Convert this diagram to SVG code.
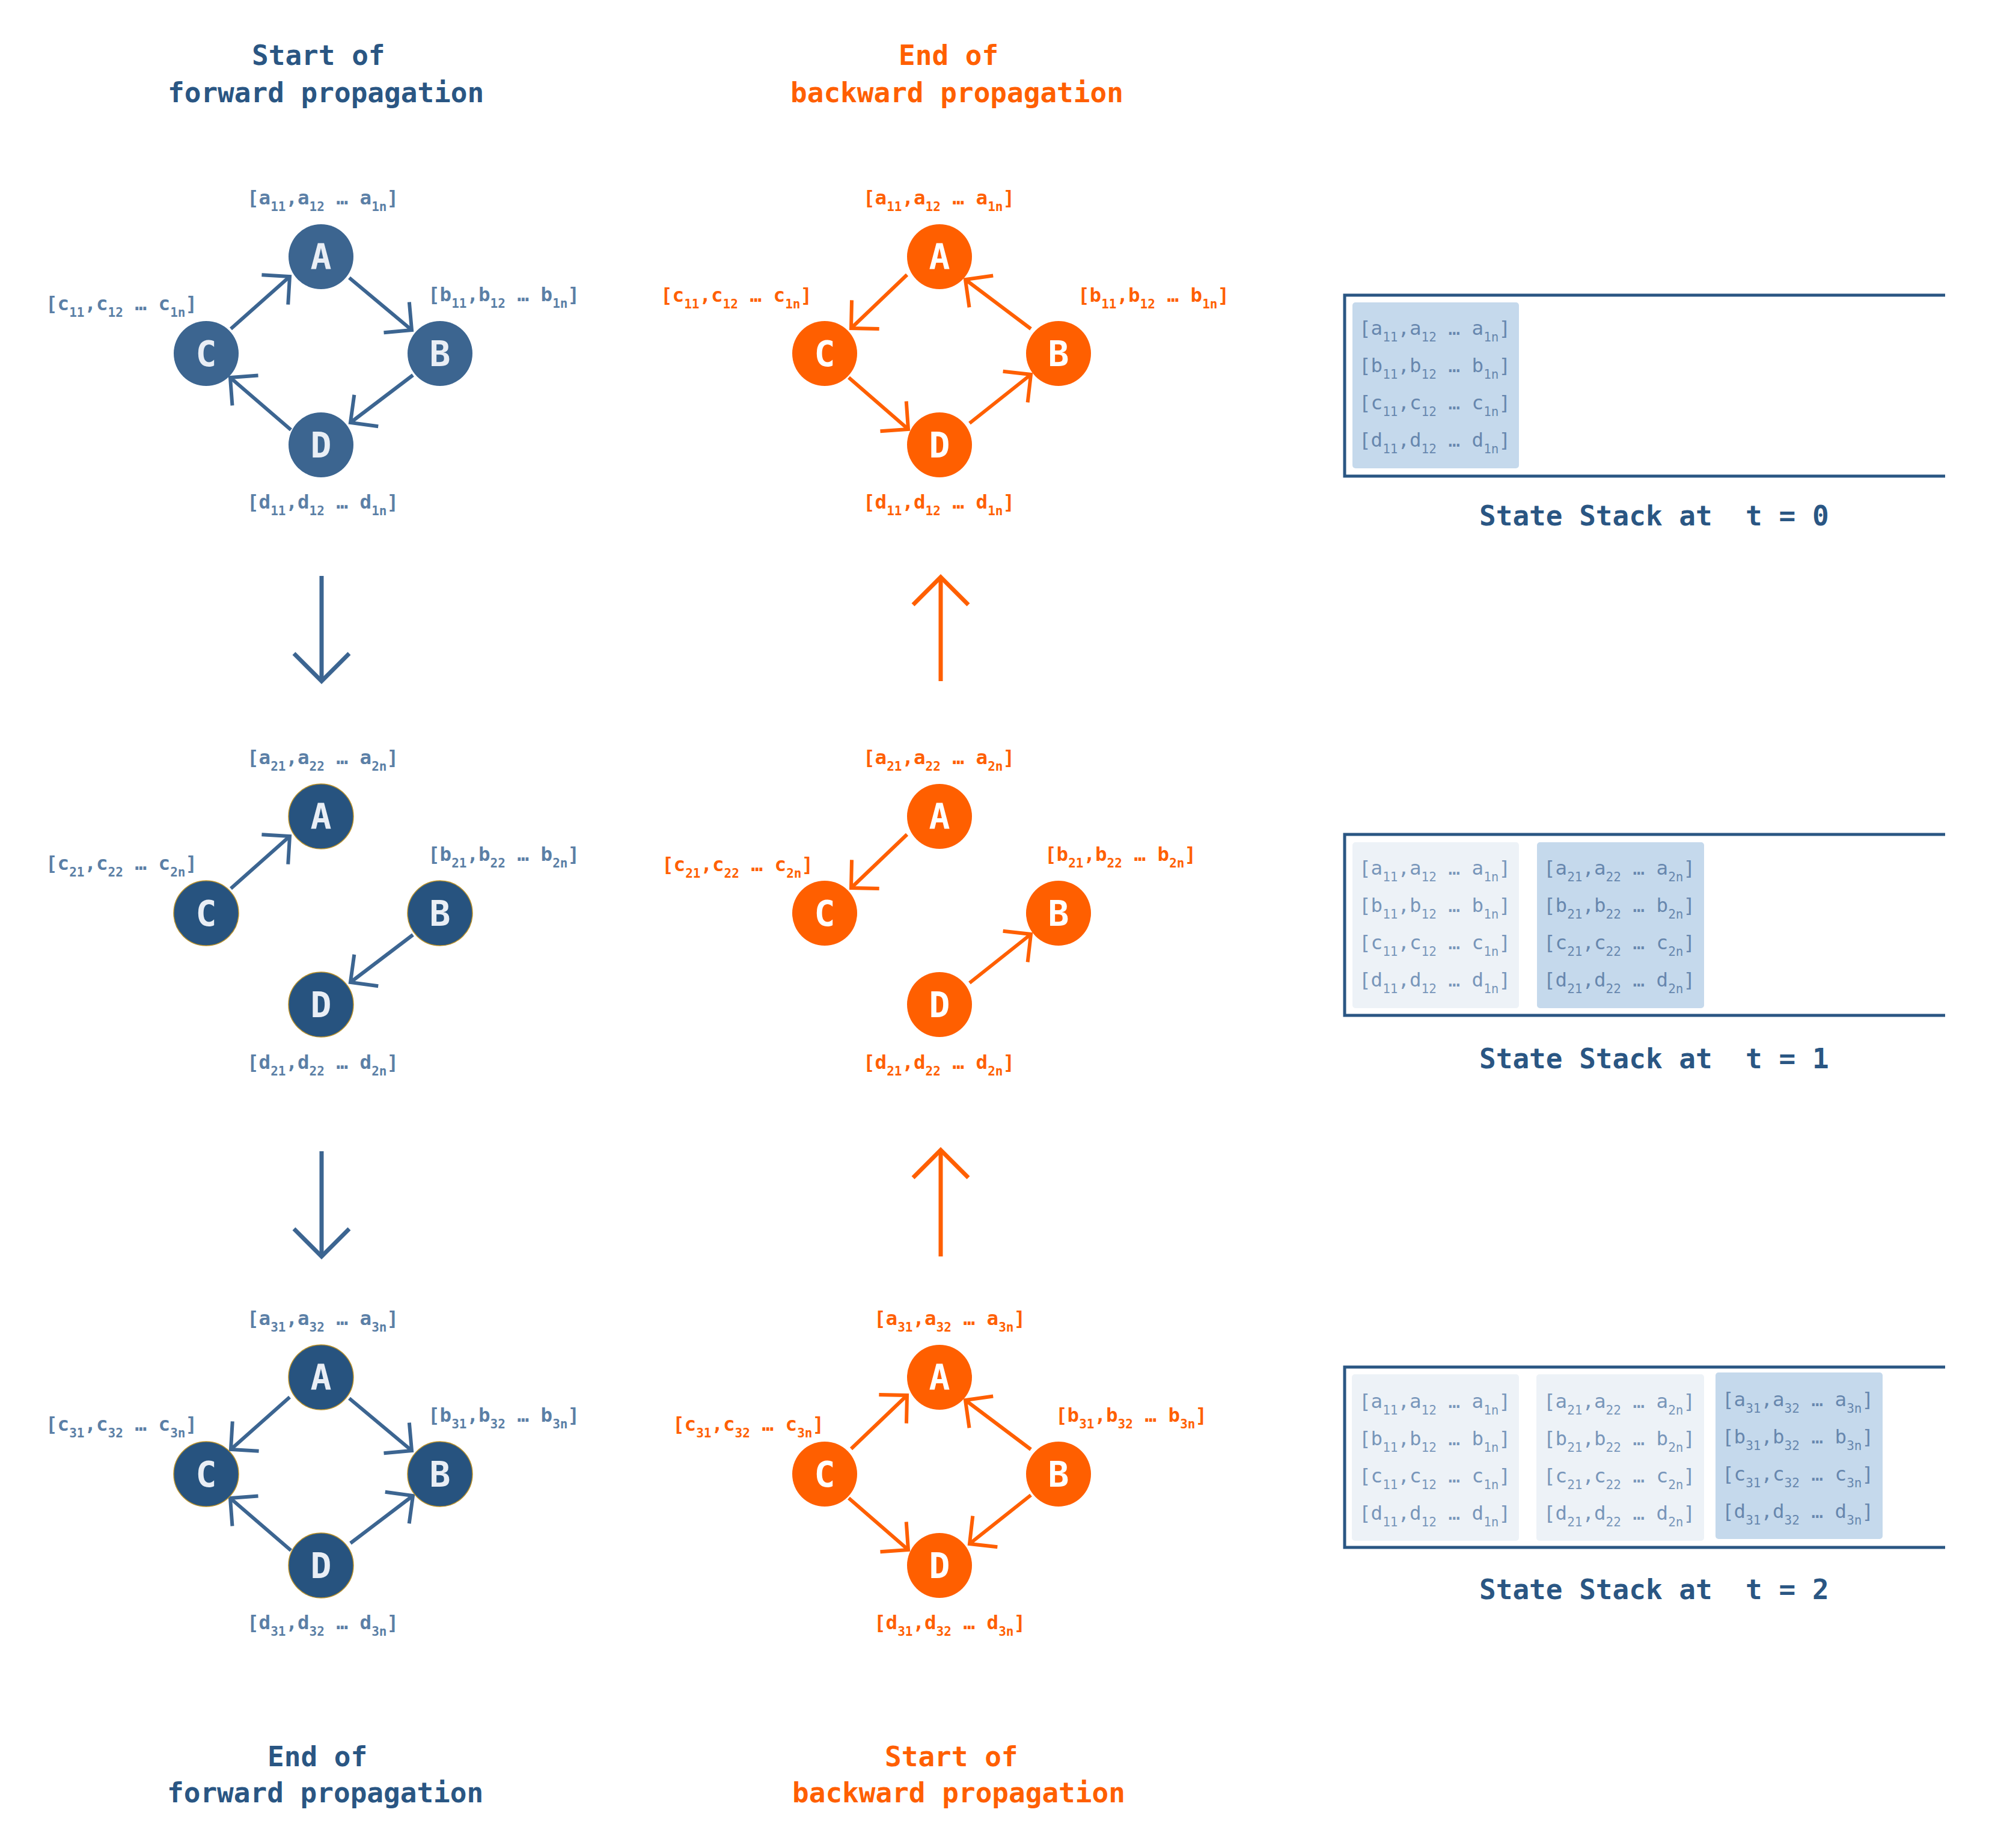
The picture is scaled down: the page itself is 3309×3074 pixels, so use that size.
<svg xmlns="http://www.w3.org/2000/svg" width="3309" height="3074" viewBox="0 0 3309 3074">
<style>
.bg{fill:#ffffff}
.tt{font-family:"DejaVu Sans Mono","Liberation Mono",monospace;font-weight:bold;font-size:46px}
.tb{fill:#2a5683}
.to{fill:#ff5f00}
.n1{fill:#3c6590}
.n2{fill:#27537f;stroke:#b8902a;stroke-width:1.5}
.no{fill:#ff5f00}
.nl{font-family:"DejaVu Sans Mono","Liberation Mono",monospace;font-weight:bold;font-size:58px;text-anchor:middle}
.nlb{fill:#e9eef5}
.nlo{fill:#ffffff}
.lb{font-family:"DejaVu Sans Mono","Liberation Mono",monospace;font-weight:bold;font-size:32.5px}
.lbb{fill:#5b7fa6}
.lbo{fill:#ff5f00}
.s{font-size:21px}
.st{font-family:"DejaVu Sans Mono","Liberation Mono",monospace;font-weight:normal;font-size:32.5px}
.stl{fill:#7896ba}
.sth{fill:#6787ae}
.cl{fill:#edf2f7}
.ch{fill:#c5d9ec}
.sk{stroke:#2a5683;stroke-width:5;fill:none}
.eb{stroke:#3c6591;stroke-width:6;fill:none;marker-end:url(#mb)}
.eo{stroke:#ff5f00;stroke-width:6;fill:none;marker-end:url(#mo)}
.bb{stroke:#3c6591;stroke-width:7;fill:none;marker-end:url(#mbb)}
.bo{stroke:#ff5f00;stroke-width:7;fill:none;marker-end:url(#mbo)}
</style>
<defs>
<marker id="mb" viewBox="-40 -40 50 80" refX="0" refY="0" markerWidth="50" markerHeight="80" markerUnits="userSpaceOnUse" orient="auto" overflow="visible"><path d="M-33,-33 L0,0 L-33,33" fill="none" stroke="#3c6591" stroke-width="6"/></marker>
<marker id="mo" viewBox="-40 -40 50 80" refX="0" refY="0" markerWidth="50" markerHeight="80" markerUnits="userSpaceOnUse" orient="auto" overflow="visible"><path d="M-33,-33 L0,0 L-33,33" fill="none" stroke="#ff5f00" stroke-width="6"/></marker>
<marker id="mbb" viewBox="-55 -55 65 110" refX="0" refY="0" markerWidth="65" markerHeight="110" markerUnits="userSpaceOnUse" orient="auto" overflow="visible"><path d="M-46,-46 L0,0 L-46,46" fill="none" stroke="#3c6591" stroke-width="7"/></marker>
<marker id="mbo" viewBox="-55 -55 65 110" refX="0" refY="0" markerWidth="65" markerHeight="110" markerUnits="userSpaceOnUse" orient="auto" overflow="visible"><path d="M-46,-46 L0,0 L-46,46" fill="none" stroke="#ff5f00" stroke-width="7"/></marker>
</defs>
<rect class="bg" x="0" y="0" width="3309" height="3074"/>

<g id="titles">
<text class="tt tb" x="419" y="108">Start of</text>
<text class="tt tb" x="279" y="170">forward propagation</text>
<text class="tt to" x="1495" y="108">End of</text>
<text class="tt to" x="1315" y="170">backward propagation</text>
<text class="tt tb" x="445" y="2938">End of</text>
<text class="tt tb" x="278" y="2998">forward propagation</text>
<text class="tt to" x="1472" y="2938">Start of</text>
<text class="tt to" x="1318" y="2998">backward propagation</text>
</g>

<g id="connectors">
<path class="eb" d="M384,547 L482,460"/>
<path class="eb" d="M581,462 L685,549"/>
<path class="eb" d="M687,624 L583,703"/>
<path class="eb" d="M484,715 L383,628"/>
<path class="eb" d="M384,1478 L482,1391"/>
<path class="eb" d="M687,1555 L583,1634"/>
<path class="eb" d="M482,2324 L384,2411"/>
<path class="eb" d="M581,2326 L685,2413"/>
<path class="eb" d="M484,2579 L383,2492"/>
<path class="eb" d="M583,2567 L687,2488"/>
<path class="eo" d="M1509,457 L1416,546"/>
<path class="eo" d="M1412,628 L1511,714"/>
<path class="eo" d="M1613,704 L1715,623"/>
<path class="eo" d="M1715,547 L1606,465"/>
<path class="eo" d="M1509,1388 L1416,1477"/>
<path class="eo" d="M1613,1635 L1715,1554"/>
<path class="eo" d="M1416,2410 L1509,2321"/>
<path class="eo" d="M1715,2411 L1606,2329"/>
<path class="eo" d="M1412,2492 L1511,2578"/>
<path class="eo" d="M1715,2487 L1613,2568"/>
<path class="bb" d="M535,958 L535,1133"/>
<path class="bb" d="M535,1915 L535,2090"/>
<path class="bo" d="M1565,1133 L1565,960"/>
<path class="bo" d="M1565,2090 L1565,1913"/>
</g>

<g id="fwd-t0-A"><circle class="n1" cx="534" cy="427" r="54"/><text class="nl nlb" x="534" y="448">A</text><text class="lb lbb" x="411" y="340" xml:space="preserve">[a<tspan class="s" dy="11">11</tspan><tspan dy="-11">,a</tspan><tspan class="s" dy="11">12</tspan><tspan dy="-11"> … a</tspan><tspan class="s" dy="11">1n</tspan><tspan dy="-11">]</tspan></text></g>
<g id="fwd-t0-C"><circle class="n1" cx="343" cy="588" r="54"/><text class="nl nlb" x="343" y="609">C</text><text class="lb lbb" x="76" y="516" xml:space="preserve">[c<tspan class="s" dy="11">11</tspan><tspan dy="-11">,c</tspan><tspan class="s" dy="11">12</tspan><tspan dy="-11"> … c</tspan><tspan class="s" dy="11">1n</tspan><tspan dy="-11">]</tspan></text></g>
<g id="fwd-t0-B"><circle class="n1" cx="732" cy="588" r="54"/><text class="nl nlb" x="732" y="609">B</text><text class="lb lbb" x="712" y="501" xml:space="preserve">[b<tspan class="s" dy="11">11</tspan><tspan dy="-11">,b</tspan><tspan class="s" dy="11">12</tspan><tspan dy="-11"> … b</tspan><tspan class="s" dy="11">1n</tspan><tspan dy="-11">]</tspan></text></g>
<g id="fwd-t0-D"><circle class="n1" cx="534" cy="740" r="54"/><text class="nl nlb" x="534" y="761">D</text><text class="lb lbb" x="411" y="846" xml:space="preserve">[d<tspan class="s" dy="11">11</tspan><tspan dy="-11">,d</tspan><tspan class="s" dy="11">12</tspan><tspan dy="-11"> … d</tspan><tspan class="s" dy="11">1n</tspan><tspan dy="-11">]</tspan></text></g>

<g id="fwd-t1-A"><circle class="n2" cx="534" cy="1358" r="54"/><text class="nl nlb" x="534" y="1379">A</text><text class="lb lbb" x="411" y="1271" xml:space="preserve">[a<tspan class="s" dy="11">21</tspan><tspan dy="-11">,a</tspan><tspan class="s" dy="11">22</tspan><tspan dy="-11"> … a</tspan><tspan class="s" dy="11">2n</tspan><tspan dy="-11">]</tspan></text></g>
<g id="fwd-t1-C"><circle class="n2" cx="343" cy="1519" r="54"/><text class="nl nlb" x="343" y="1540">C</text><text class="lb lbb" x="76" y="1447" xml:space="preserve">[c<tspan class="s" dy="11">21</tspan><tspan dy="-11">,c</tspan><tspan class="s" dy="11">22</tspan><tspan dy="-11"> … c</tspan><tspan class="s" dy="11">2n</tspan><tspan dy="-11">]</tspan></text></g>
<g id="fwd-t1-B"><circle class="n2" cx="732" cy="1519" r="54"/><text class="nl nlb" x="732" y="1540">B</text><text class="lb lbb" x="712" y="1432" xml:space="preserve">[b<tspan class="s" dy="11">21</tspan><tspan dy="-11">,b</tspan><tspan class="s" dy="11">22</tspan><tspan dy="-11"> … b</tspan><tspan class="s" dy="11">2n</tspan><tspan dy="-11">]</tspan></text></g>
<g id="fwd-t1-D"><circle class="n2" cx="534" cy="1671" r="54"/><text class="nl nlb" x="534" y="1692">D</text><text class="lb lbb" x="411" y="1778" xml:space="preserve">[d<tspan class="s" dy="11">21</tspan><tspan dy="-11">,d</tspan><tspan class="s" dy="11">22</tspan><tspan dy="-11"> … d</tspan><tspan class="s" dy="11">2n</tspan><tspan dy="-11">]</tspan></text></g>

<g id="fwd-t2-A"><circle class="n2" cx="534" cy="2291" r="54"/><text class="nl nlb" x="534" y="2312">A</text><text class="lb lbb" x="411" y="2204" xml:space="preserve">[a<tspan class="s" dy="11">31</tspan><tspan dy="-11">,a</tspan><tspan class="s" dy="11">32</tspan><tspan dy="-11"> … a</tspan><tspan class="s" dy="11">3n</tspan><tspan dy="-11">]</tspan></text></g>
<g id="fwd-t2-C"><circle class="n2" cx="343" cy="2452" r="54"/><text class="nl nlb" x="343" y="2473">C</text><text class="lb lbb" x="76" y="2380" xml:space="preserve">[c<tspan class="s" dy="11">31</tspan><tspan dy="-11">,c</tspan><tspan class="s" dy="11">32</tspan><tspan dy="-11"> … c</tspan><tspan class="s" dy="11">3n</tspan><tspan dy="-11">]</tspan></text></g>
<g id="fwd-t2-B"><circle class="n2" cx="732" cy="2452" r="54"/><text class="nl nlb" x="732" y="2473">B</text><text class="lb lbb" x="712" y="2365" xml:space="preserve">[b<tspan class="s" dy="11">31</tspan><tspan dy="-11">,b</tspan><tspan class="s" dy="11">32</tspan><tspan dy="-11"> … b</tspan><tspan class="s" dy="11">3n</tspan><tspan dy="-11">]</tspan></text></g>
<g id="fwd-t2-D"><circle class="n2" cx="534" cy="2604" r="54"/><text class="nl nlb" x="534" y="2625">D</text><text class="lb lbb" x="411" y="2710" xml:space="preserve">[d<tspan class="s" dy="11">31</tspan><tspan dy="-11">,d</tspan><tspan class="s" dy="11">32</tspan><tspan dy="-11"> … d</tspan><tspan class="s" dy="11">3n</tspan><tspan dy="-11">]</tspan></text></g>

<g id="bwd-t0-A"><circle class="no" cx="1563" cy="427" r="54"/><text class="nl nlo" x="1563" y="448">A</text><text class="lb lbo" x="1436" y="340" xml:space="preserve">[a<tspan class="s" dy="11">11</tspan><tspan dy="-11">,a</tspan><tspan class="s" dy="11">12</tspan><tspan dy="-11"> … a</tspan><tspan class="s" dy="11">1n</tspan><tspan dy="-11">]</tspan></text></g>
<g id="bwd-t0-C"><circle class="no" cx="1372" cy="588" r="54"/><text class="nl nlo" x="1372" y="609">C</text><text class="lb lbo" x="1099" y="502" xml:space="preserve">[c<tspan class="s" dy="11">11</tspan><tspan dy="-11">,c</tspan><tspan class="s" dy="11">12</tspan><tspan dy="-11"> … c</tspan><tspan class="s" dy="11">1n</tspan><tspan dy="-11">]</tspan></text></g>
<g id="bwd-t0-B"><circle class="no" cx="1761" cy="588" r="54"/><text class="nl nlo" x="1761" y="609">B</text><text class="lb lbo" x="1793" y="502" xml:space="preserve">[b<tspan class="s" dy="11">11</tspan><tspan dy="-11">,b</tspan><tspan class="s" dy="11">12</tspan><tspan dy="-11"> … b</tspan><tspan class="s" dy="11">1n</tspan><tspan dy="-11">]</tspan></text></g>
<g id="bwd-t0-D"><circle class="no" cx="1563" cy="740" r="54"/><text class="nl nlo" x="1563" y="761">D</text><text class="lb lbo" x="1436" y="846" xml:space="preserve">[d<tspan class="s" dy="11">11</tspan><tspan dy="-11">,d</tspan><tspan class="s" dy="11">12</tspan><tspan dy="-11"> … d</tspan><tspan class="s" dy="11">1n</tspan><tspan dy="-11">]</tspan></text></g>

<g id="bwd-t1-A"><circle class="no" cx="1563" cy="1358" r="54"/><text class="nl nlo" x="1563" y="1379">A</text><text class="lb lbo" x="1436" y="1271" xml:space="preserve">[a<tspan class="s" dy="11">21</tspan><tspan dy="-11">,a</tspan><tspan class="s" dy="11">22</tspan><tspan dy="-11"> … a</tspan><tspan class="s" dy="11">2n</tspan><tspan dy="-11">]</tspan></text></g>
<g id="bwd-t1-C"><circle class="no" cx="1372" cy="1519" r="54"/><text class="nl nlo" x="1372" y="1540">C</text><text class="lb lbo" x="1101" y="1449" xml:space="preserve">[c<tspan class="s" dy="11">21</tspan><tspan dy="-11">,c</tspan><tspan class="s" dy="11">22</tspan><tspan dy="-11"> … c</tspan><tspan class="s" dy="11">2n</tspan><tspan dy="-11">]</tspan></text></g>
<g id="bwd-t1-B"><circle class="no" cx="1761" cy="1519" r="54"/><text class="nl nlo" x="1761" y="1540">B</text><text class="lb lbo" x="1738" y="1432" xml:space="preserve">[b<tspan class="s" dy="11">21</tspan><tspan dy="-11">,b</tspan><tspan class="s" dy="11">22</tspan><tspan dy="-11"> … b</tspan><tspan class="s" dy="11">2n</tspan><tspan dy="-11">]</tspan></text></g>
<g id="bwd-t1-D"><circle class="no" cx="1563" cy="1671" r="54"/><text class="nl nlo" x="1563" y="1692">D</text><text class="lb lbo" x="1436" y="1778" xml:space="preserve">[d<tspan class="s" dy="11">21</tspan><tspan dy="-11">,d</tspan><tspan class="s" dy="11">22</tspan><tspan dy="-11"> … d</tspan><tspan class="s" dy="11">2n</tspan><tspan dy="-11">]</tspan></text></g>

<g id="bwd-t2-A"><circle class="no" cx="1563" cy="2291" r="54"/><text class="nl nlo" x="1563" y="2312">A</text><text class="lb lbo" x="1454" y="2204" xml:space="preserve">[a<tspan class="s" dy="11">31</tspan><tspan dy="-11">,a</tspan><tspan class="s" dy="11">32</tspan><tspan dy="-11"> … a</tspan><tspan class="s" dy="11">3n</tspan><tspan dy="-11">]</tspan></text></g>
<g id="bwd-t2-C"><circle class="no" cx="1372" cy="2452" r="54"/><text class="nl nlo" x="1372" y="2473">C</text><text class="lb lbo" x="1119" y="2380" xml:space="preserve">[c<tspan class="s" dy="11">31</tspan><tspan dy="-11">,c</tspan><tspan class="s" dy="11">32</tspan><tspan dy="-11"> … c</tspan><tspan class="s" dy="11">3n</tspan><tspan dy="-11">]</tspan></text></g>
<g id="bwd-t2-B"><circle class="no" cx="1761" cy="2452" r="54"/><text class="nl nlo" x="1761" y="2473">B</text><text class="lb lbo" x="1756" y="2365" xml:space="preserve">[b<tspan class="s" dy="11">31</tspan><tspan dy="-11">,b</tspan><tspan class="s" dy="11">32</tspan><tspan dy="-11"> … b</tspan><tspan class="s" dy="11">3n</tspan><tspan dy="-11">]</tspan></text></g>
<g id="bwd-t2-D"><circle class="no" cx="1563" cy="2604" r="54"/><text class="nl nlo" x="1563" y="2625">D</text><text class="lb lbo" x="1454" y="2710" xml:space="preserve">[d<tspan class="s" dy="11">31</tspan><tspan dy="-11">,d</tspan><tspan class="s" dy="11">32</tspan><tspan dy="-11"> … d</tspan><tspan class="s" dy="11">3n</tspan><tspan dy="-11">]</tspan></text></g>

<g id="stack-t0">
<path class="sk" d="M3236,491 L2237,491 L2237,792 L3236,792"/>
<rect class="ch" x="2250" y="503" width="277" height="276" rx="5"/>
<text class="st sth" x="2261" y="557" xml:space="preserve">[a<tspan class="s" dy="11">11</tspan><tspan dy="-11">,a</tspan><tspan class="s" dy="11">12</tspan><tspan dy="-11"> … a</tspan><tspan class="s" dy="11">1n</tspan><tspan dy="-11">]</tspan></text>
<text class="st sth" x="2261" y="619" xml:space="preserve">[b<tspan class="s" dy="11">11</tspan><tspan dy="-11">,b</tspan><tspan class="s" dy="11">12</tspan><tspan dy="-11"> … b</tspan><tspan class="s" dy="11">1n</tspan><tspan dy="-11">]</tspan></text>
<text class="st sth" x="2261" y="681" xml:space="preserve">[c<tspan class="s" dy="11">11</tspan><tspan dy="-11">,c</tspan><tspan class="s" dy="11">12</tspan><tspan dy="-11"> … c</tspan><tspan class="s" dy="11">1n</tspan><tspan dy="-11">]</tspan></text>
<text class="st sth" x="2261" y="743" xml:space="preserve">[d<tspan class="s" dy="11">11</tspan><tspan dy="-11">,d</tspan><tspan class="s" dy="11">12</tspan><tspan dy="-11"> … d</tspan><tspan class="s" dy="11">1n</tspan><tspan dy="-11">]</tspan></text>
<text class="tt tb" x="2461" y="874" xml:space="preserve">State Stack at  t = 0</text>
</g>

<g id="stack-t1">
<path class="sk" d="M3236,1388 L2237,1388 L2237,1689 L3236,1689"/>
<rect class="cl" x="2250" y="1401" width="277" height="276" rx="5"/>
<rect class="ch" x="2557" y="1401" width="278" height="276" rx="5"/>
<text class="st stl" x="2261" y="1455" xml:space="preserve">[a<tspan class="s" dy="11">11</tspan><tspan dy="-11">,a</tspan><tspan class="s" dy="11">12</tspan><tspan dy="-11"> … a</tspan><tspan class="s" dy="11">1n</tspan><tspan dy="-11">]</tspan></text>
<text class="st stl" x="2261" y="1517" xml:space="preserve">[b<tspan class="s" dy="11">11</tspan><tspan dy="-11">,b</tspan><tspan class="s" dy="11">12</tspan><tspan dy="-11"> … b</tspan><tspan class="s" dy="11">1n</tspan><tspan dy="-11">]</tspan></text>
<text class="st stl" x="2261" y="1579" xml:space="preserve">[c<tspan class="s" dy="11">11</tspan><tspan dy="-11">,c</tspan><tspan class="s" dy="11">12</tspan><tspan dy="-11"> … c</tspan><tspan class="s" dy="11">1n</tspan><tspan dy="-11">]</tspan></text>
<text class="st stl" x="2261" y="1641" xml:space="preserve">[d<tspan class="s" dy="11">11</tspan><tspan dy="-11">,d</tspan><tspan class="s" dy="11">12</tspan><tspan dy="-11"> … d</tspan><tspan class="s" dy="11">1n</tspan><tspan dy="-11">]</tspan></text>
<text class="st sth" x="2568" y="1455" xml:space="preserve">[a<tspan class="s" dy="11">21</tspan><tspan dy="-11">,a</tspan><tspan class="s" dy="11">22</tspan><tspan dy="-11"> … a</tspan><tspan class="s" dy="11">2n</tspan><tspan dy="-11">]</tspan></text>
<text class="st sth" x="2568" y="1517" xml:space="preserve">[b<tspan class="s" dy="11">21</tspan><tspan dy="-11">,b</tspan><tspan class="s" dy="11">22</tspan><tspan dy="-11"> … b</tspan><tspan class="s" dy="11">2n</tspan><tspan dy="-11">]</tspan></text>
<text class="st sth" x="2568" y="1579" xml:space="preserve">[c<tspan class="s" dy="11">21</tspan><tspan dy="-11">,c</tspan><tspan class="s" dy="11">22</tspan><tspan dy="-11"> … c</tspan><tspan class="s" dy="11">2n</tspan><tspan dy="-11">]</tspan></text>
<text class="st sth" x="2568" y="1641" xml:space="preserve">[d<tspan class="s" dy="11">21</tspan><tspan dy="-11">,d</tspan><tspan class="s" dy="11">22</tspan><tspan dy="-11"> … d</tspan><tspan class="s" dy="11">2n</tspan><tspan dy="-11">]</tspan></text>
<text class="tt tb" x="2461" y="1777" xml:space="preserve">State Stack at  t = 1</text>
</g>

<g id="stack-t2">
<path class="sk" d="M3236,2274 L2237,2274 L2237,2574 L3236,2574"/>
<rect class="cl" x="2249" y="2286" width="278" height="277" rx="5"/>
<rect class="cl" x="2556" y="2286" width="279" height="277" rx="5"/>
<rect class="ch" x="2854" y="2283" width="278" height="277" rx="5"/>
<text class="st stl" x="2261" y="2342" xml:space="preserve">[a<tspan class="s" dy="11">11</tspan><tspan dy="-11">,a</tspan><tspan class="s" dy="11">12</tspan><tspan dy="-11"> … a</tspan><tspan class="s" dy="11">1n</tspan><tspan dy="-11">]</tspan></text>
<text class="st stl" x="2261" y="2404" xml:space="preserve">[b<tspan class="s" dy="11">11</tspan><tspan dy="-11">,b</tspan><tspan class="s" dy="11">12</tspan><tspan dy="-11"> … b</tspan><tspan class="s" dy="11">1n</tspan><tspan dy="-11">]</tspan></text>
<text class="st stl" x="2261" y="2466" xml:space="preserve">[c<tspan class="s" dy="11">11</tspan><tspan dy="-11">,c</tspan><tspan class="s" dy="11">12</tspan><tspan dy="-11"> … c</tspan><tspan class="s" dy="11">1n</tspan><tspan dy="-11">]</tspan></text>
<text class="st stl" x="2261" y="2528" xml:space="preserve">[d<tspan class="s" dy="11">11</tspan><tspan dy="-11">,d</tspan><tspan class="s" dy="11">12</tspan><tspan dy="-11"> … d</tspan><tspan class="s" dy="11">1n</tspan><tspan dy="-11">]</tspan></text>
<text class="st stl" x="2568" y="2342" xml:space="preserve">[a<tspan class="s" dy="11">21</tspan><tspan dy="-11">,a</tspan><tspan class="s" dy="11">22</tspan><tspan dy="-11"> … a</tspan><tspan class="s" dy="11">2n</tspan><tspan dy="-11">]</tspan></text>
<text class="st stl" x="2568" y="2404" xml:space="preserve">[b<tspan class="s" dy="11">21</tspan><tspan dy="-11">,b</tspan><tspan class="s" dy="11">22</tspan><tspan dy="-11"> … b</tspan><tspan class="s" dy="11">2n</tspan><tspan dy="-11">]</tspan></text>
<text class="st stl" x="2568" y="2466" xml:space="preserve">[c<tspan class="s" dy="11">21</tspan><tspan dy="-11">,c</tspan><tspan class="s" dy="11">22</tspan><tspan dy="-11"> … c</tspan><tspan class="s" dy="11">2n</tspan><tspan dy="-11">]</tspan></text>
<text class="st stl" x="2568" y="2528" xml:space="preserve">[d<tspan class="s" dy="11">21</tspan><tspan dy="-11">,d</tspan><tspan class="s" dy="11">22</tspan><tspan dy="-11"> … d</tspan><tspan class="s" dy="11">2n</tspan><tspan dy="-11">]</tspan></text>
<text class="st sth" x="2865" y="2339" xml:space="preserve">[a<tspan class="s" dy="11">31</tspan><tspan dy="-11">,a</tspan><tspan class="s" dy="11">32</tspan><tspan dy="-11"> … a</tspan><tspan class="s" dy="11">3n</tspan><tspan dy="-11">]</tspan></text>
<text class="st sth" x="2865" y="2401" xml:space="preserve">[b<tspan class="s" dy="11">31</tspan><tspan dy="-11">,b</tspan><tspan class="s" dy="11">32</tspan><tspan dy="-11"> … b</tspan><tspan class="s" dy="11">3n</tspan><tspan dy="-11">]</tspan></text>
<text class="st sth" x="2865" y="2463" xml:space="preserve">[c<tspan class="s" dy="11">31</tspan><tspan dy="-11">,c</tspan><tspan class="s" dy="11">32</tspan><tspan dy="-11"> … c</tspan><tspan class="s" dy="11">3n</tspan><tspan dy="-11">]</tspan></text>
<text class="st sth" x="2865" y="2525" xml:space="preserve">[d<tspan class="s" dy="11">31</tspan><tspan dy="-11">,d</tspan><tspan class="s" dy="11">32</tspan><tspan dy="-11"> … d</tspan><tspan class="s" dy="11">3n</tspan><tspan dy="-11">]</tspan></text>
<text class="tt tb" x="2461" y="2660" xml:space="preserve">State Stack at  t = 2</text>
</g>
</svg>
